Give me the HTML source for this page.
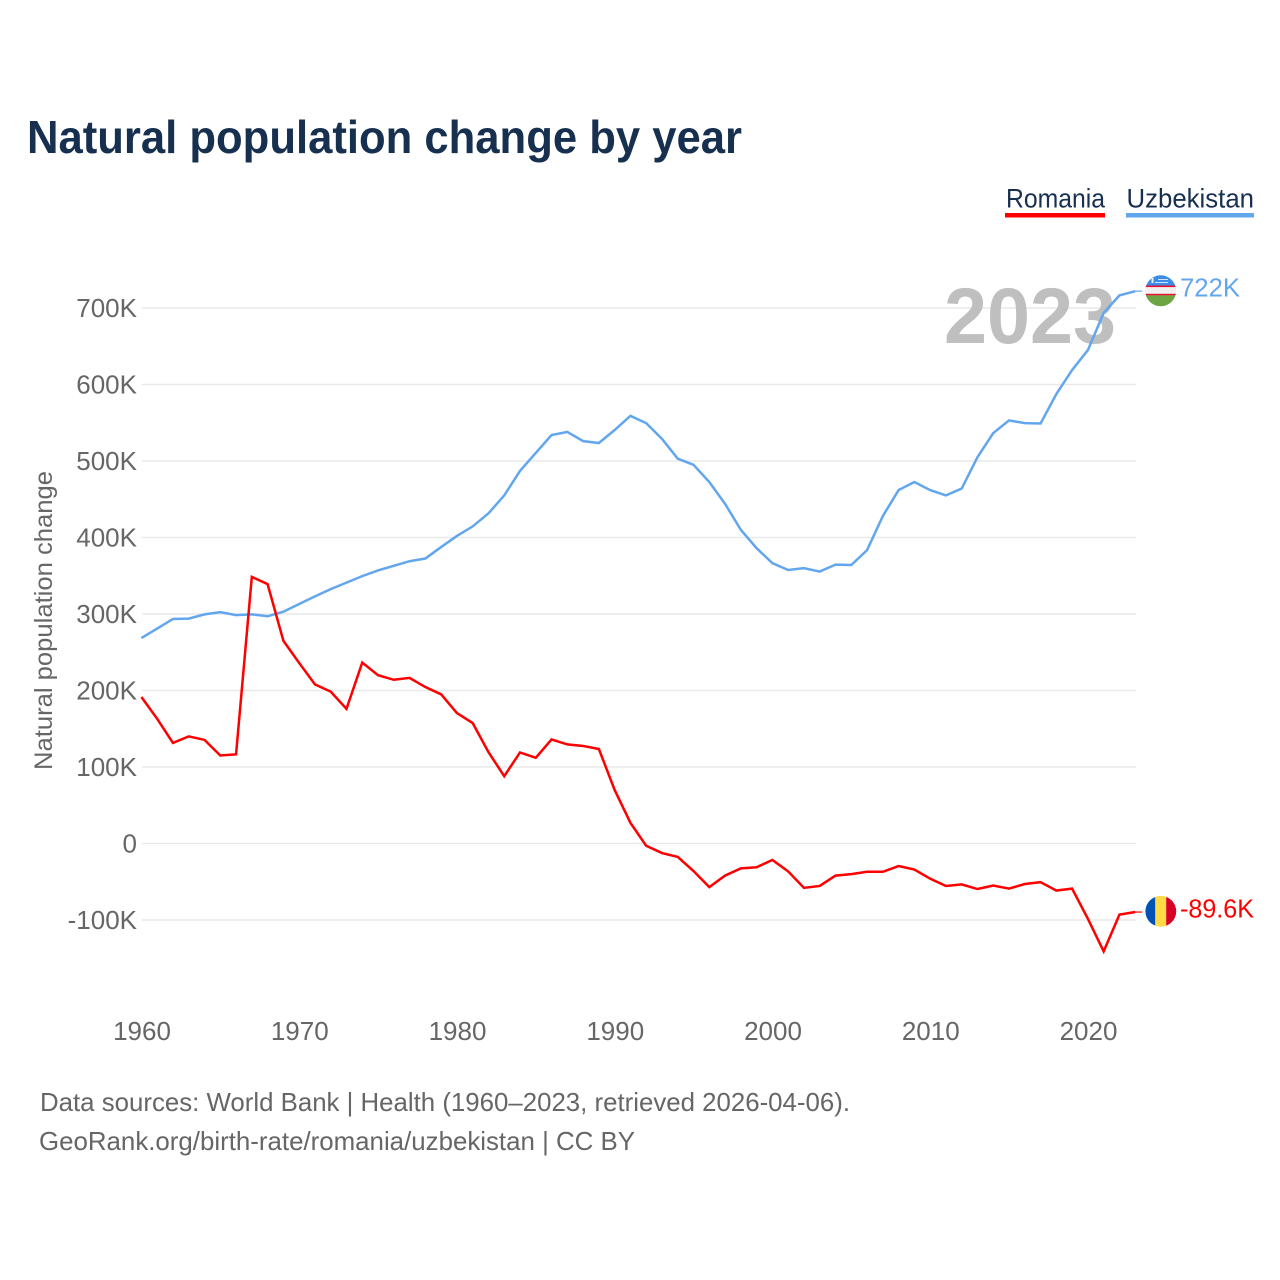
<!DOCTYPE html>
<html lang="en">
<head>
<meta charset="utf-8">
<title>Natural population change by year</title>
<style>
html,body{margin:0;padding:0;background:#fff;width:1280px;height:1280px;overflow:hidden}
svg{display:block}
text{font-family:"Liberation Sans",sans-serif}
</style>
</head>
<body>
<svg id="chart" xmlns="http://www.w3.org/2000/svg" width="1280" height="1280" viewBox="0 0 1280 1280">
  <defs>
    <clipPath id="flag-clip-uz"><circle cx="1160.7" cy="290.8" r="15.5"/></clipPath>
    <clipPath id="flag-clip-ro"><circle cx="1160.8" cy="911.3" r="15.4"/></clipPath>
  </defs>
  <rect x="0" y="0" width="1280" height="1280" fill="#fff"/>
  <text x="27" y="153" font-size="46" font-weight="700" fill="#17304f" textLength="715" lengthAdjust="spacingAndGlyphs">Natural population change by year</text>

  <g>
    <text x="1006" y="207.5" font-size="26.5" fill="#17304f" textLength="99" lengthAdjust="spacingAndGlyphs">Romania</text>
    <rect x="1005" y="213" width="100" height="4.5" fill="#ff0000"/>
  </g>
  <g>
    <text x="1126.5" y="207.5" font-size="26.5" fill="#17304f" textLength="127.5" lengthAdjust="spacingAndGlyphs">Uzbekistan</text>
    <rect x="1126" y="213" width="128" height="4.5" fill="#62a6ee"/>
  </g>

  <g id="grid"></g>
  <g id="y-ticks"></g>
  <g id="x-ticks"></g>

  <text transform="translate(52 620.5) rotate(-90)" text-anchor="middle" font-size="25" fill="#666" textLength="299" lengthAdjust="spacingAndGlyphs">Natural population change</text>

  <text x="944" y="343" font-size="79" font-weight="700" fill="#bfbfbf" textLength="172" lengthAdjust="spacingAndGlyphs">2023</text>

  <g id="series"></g>

  <g clip-path="url(#flag-clip-uz)">
    <rect x="1145" y="275" width="32" height="10.5" fill="#3a8eea"/>
    <rect x="1145" y="285.5" width="32" height="10" fill="#f0f0f0"/>
    <rect x="1145" y="285.5" width="32" height="1.6" fill="#e8112d"/>
    <rect x="1145" y="293.8" width="32" height="1.6" fill="#e8112d"/>
    <rect x="1145" y="295.4" width="32" height="12" fill="#6da544"/>
    <rect x="1151.5" y="278" width="2" height="5" fill="#e6f0fb"/>
    <rect x="1158" y="279" width="10" height="1" fill="#cfe3fa"/>
    <rect x="1155" y="282" width="13" height="1" fill="#cfe3fa"/>
  </g>
  <g clip-path="url(#flag-clip-ro)">
    <rect x="1145" y="895" width="10.3" height="33" fill="#0052b4"/>
    <rect x="1155.3" y="895" width="10.9" height="33" fill="#ffda44"/>
    <rect x="1166.2" y="895" width="11" height="33" fill="#d80027"/>
  </g>

  <text x="1180" y="296.5" font-size="26" fill="#62a6ee" textLength="60" lengthAdjust="spacingAndGlyphs">722K</text>
  <text x="1180" y="917.5" font-size="26" fill="#ff0000" textLength="74" lengthAdjust="spacingAndGlyphs">-89.6K</text>

  <text x="40" y="1111" font-size="26" fill="#666" textLength="810" lengthAdjust="spacingAndGlyphs">Data sources: World Bank | Health (1960–2023, retrieved 2026-04-06).</text>
  <text x="39" y="1150" font-size="26" fill="#666" textLength="596" lengthAdjust="spacingAndGlyphs">GeoRank.org/birth-rate/romania/uzbekistan | CC BY</text>
</svg>
<script>
const firstYear = 1960;
const romaniaValues = [191.5,163,131.5,140,135.5,115,116.5,348.5,339,265,236,208,198.5,176,236.5,220,214,216.5,204.5,195,170.5,157.5,119.5,88,119,112,136,129.5,127.5,123.5,70,27,-3,-12.5,-17.5,-36,-57,-42,-32.5,-31,-21.5,-36.5,-58,-55.5,-42,-40,-37,-37,-29.5,-34,-46,-55.5,-53.5,-59.5,-55,-59,-53,-50.5,-61.5,-59,-98.5,-141,-93,-89.6];
const uzbekistanValues = [268.6,281,293.5,294,299.5,302.5,298.5,299.5,297,303,313,323,332.5,341,349.5,357,363,369,372.5,387.5,402,414.5,431.5,455,487,510.5,534,538,526,523.5,540.5,559,549.5,529,503,495,472.5,444,410,386,366.5,357.5,360,355.5,364.5,364,383.5,428,462,472.5,462,455,464,505,536.5,553,549.5,549,587.5,619,645,693.5,716.5,722];
const yTickValues = [-100,0,100,200,300,400,500,600,700];
const yTickLabels = ['-100K','0','100K','200K','300K','400K','500K','600K','700K'];
const xTickYears = [1960,1970,1980,1990,2000,2010,2020];

const NS = 'http://www.w3.org/2000/svg';
function xScale(year){ return 141.4 + (year - 1960) * 15.775; }
function yScale(v){ return 843.5 - v * 0.765; }
function make(tag, attrs, parent){
  const el = document.createElementNS(NS, tag);
  for (const k in attrs) el.setAttribute(k, attrs[k]);
  parent.appendChild(el);
  return el;
}

const grid = document.getElementById('grid');
const yTicks = document.getElementById('y-ticks');
const xTicks = document.getElementById('x-ticks');
const seriesGroup = document.getElementById('series');

yTickValues.forEach(function(v, i){
  const line = make('line', {x1:142, x2:1136, y1:yScale(v), y2:yScale(v), stroke:'#e9e9e9', 'stroke-width':1.5}, grid);
  
  
  const label = make('text', {x:137, y:yScale(v)+9, 'text-anchor':'end', 'font-size':26, fill:'#666'}, yTicks);
  
  
  label.textContent = yTickLabels[i];
});

xTickYears.forEach(function(year){
  const label = make('text', {x:xScale(year)+0.6, y:1040, 'text-anchor':'middle', 'font-size':26, fill:'#666'}, xTicks);
  
  
  label.textContent = year;
});

function drawSeries(values, color, name){
  const pts = values.map(function(v, i){ return xScale(firstYear + i).toFixed(2) + ',' + yScale(v).toFixed(2); });
  const path = make('polyline', {points:pts.join(' '), fill:'none', stroke:color, 'stroke-width':2.5, 'stroke-linejoin':'miter'}, seriesGroup);
  
  
  const lastY = yScale(values[values.length - 1]);
  const lastX = xScale(firstYear + values.length - 1);
  const link = make('line', {x1:lastX, x2:lastX + 7, y1:lastY, y2:lastY, stroke:color, 'stroke-width':1.2}, seriesGroup);
  
  
}
drawSeries(uzbekistanValues, '#62a6ee', 'line-uzbekistan');
drawSeries(romaniaValues, '#ff0000', 'line-romania');
</script>
</body>
</html>
